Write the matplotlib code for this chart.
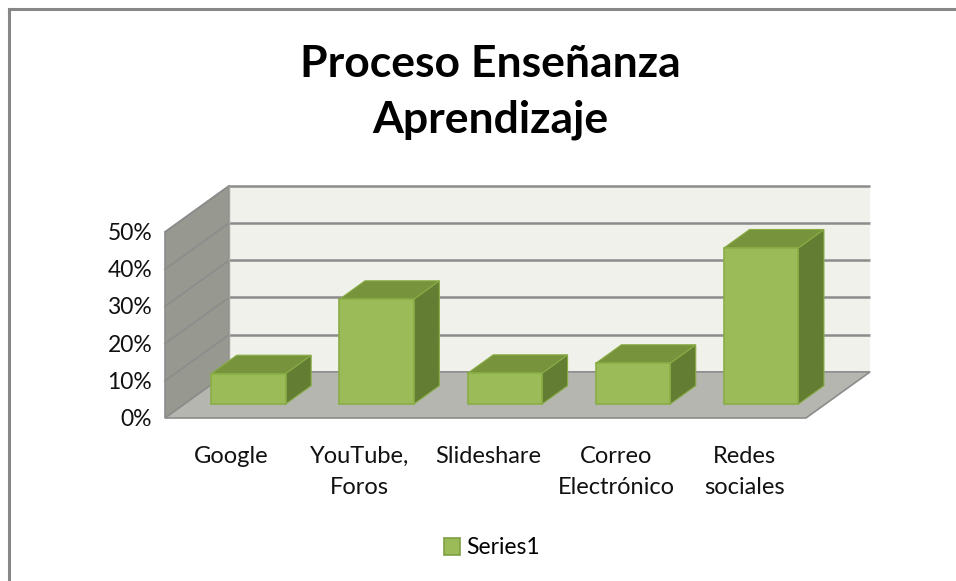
import matplotlib
matplotlib.use("Agg")
import matplotlib.pyplot as plt
from matplotlib.patches import Polygon, Patch
import numpy as np

# ---- data ----
categories = ["Google", "YouTube,\nForos", "Slideshare", "Correo\nElectrónico", "Redes\nsociales"]
values = [8.2, 28.2, 8.3, 11.0, 42.0]          # percent
y_ticks = [0, 10, 20, 30, 40, 50]
y_tick_labels = ["0%", "10%", "20%", "30%", "40%", "50%"]
series_name = "Series1"
title = "Proceso Enseñanza\nAprendizaje"

# ---- style / geometry ----
FONT = "Lato"
W, H, DPI = 956, 581, 100
px_per_slot = 128.2
px_per_pct = 3.72
x0_px, y0_px = 165, 418          # front-left floor corner in pixels
depth_dx, depth_dy = 0.5, 12.4   # oblique offset of full depth (slots, pct)
bar_w = 0.58
bar_d0, bar_d1 = 0.30, 0.70
ymax = 50

front_c = "#9BBB59"
top_c = "#77933C"
side_c = "#637D33"
edge_c = "#89AD45"
back_wall_c = "#EFF1EA"
side_wall_c = "#97988F"
floor_c = "#B4B6AF"
grid_c = "#8C8C8C"
text_c = "#111111"

fig = plt.figure(figsize=(W / DPI, H / DPI), dpi=DPI)
ax = fig.add_axes([0, 0, 1, 1])
ax.set_xlim(-x0_px / px_per_slot, (W - x0_px) / px_per_slot)
ax.set_ylim(-(H - y0_px) / px_per_pct, y0_px / px_per_pct)
ax.axis("off")

n = len(categories)

def P(x, y, d):
    return (x + d * depth_dx, y + d * depth_dy)

# walls
side_wall = Polygon([P(0, 0, 0), P(0, 0, 1), P(0, ymax, 1), P(0, ymax, 0)],
                    closed=True, fc=side_wall_c, ec=grid_c, lw=1.2, zorder=1)
back_wall = Polygon([P(0, 0, 1), P(n, 0, 1), P(n, ymax, 1), P(0, ymax, 1)],
                    closed=True, fc=back_wall_c, ec="none", lw=0, zorder=1)
floor = Polygon([P(0, 0, 0), P(n, 0, 0), P(n, 0, 1), P(0, 0, 1)],
                closed=True, fc=floor_c, ec=grid_c, lw=1.2, zorder=2)
ax.add_patch(back_wall)
ax.add_patch(side_wall)

# gridlines
for t in y_ticks[1:]:
    a, b = P(0, t, 1), P(n, t, 1)
    ax.plot([a[0], b[0]], [a[1], b[1]], color=grid_c, lw=1.8, zorder=1.5, solid_capstyle="butt")
    c = P(0, t, 0)
    ax.plot([c[0], a[0]], [c[1], a[1]], color=grid_c, lw=1.2, zorder=1.5)
a = P(0, 0, 1); b = P(0, ymax, 1)
ax.plot([a[0], b[0]], [a[1], b[1]], color="#A5A5A0", lw=1.0, zorder=1.6)
ax.add_patch(floor)

# bars
for i, v in enumerate(values):
    xl = i + 0.5 - bar_w / 2
    xr = i + 0.5 + bar_w / 2
    front = [P(xl, 0, bar_d0), P(xr, 0, bar_d0), P(xr, v, bar_d0), P(xl, v, bar_d0)]
    top = [P(xl, v, bar_d0), P(xr, v, bar_d0), P(xr, v, bar_d1), P(xl, v, bar_d1)]
    side = [P(xr, 0, bar_d0), P(xr, 0, bar_d1), P(xr, v, bar_d1), P(xr, v, bar_d0)]
    ax.add_patch(Polygon(side, closed=True, fc=side_c, ec=edge_c, lw=0.8, zorder=3))
    ax.add_patch(Polygon(top, closed=True, fc=top_c, ec=edge_c, lw=0.8, zorder=3))
    ax.add_patch(Polygon(front, closed=True, fc=front_c, ec=edge_c, lw=1.2, zorder=4))

# y tick labels on front-left edge
for t, lab in zip(y_ticks, y_tick_labels):
    ax.text(-0.1, t - 0.4, lab, ha="right", va="center", fontsize=16.5, family=FONT, color=text_c)

# category labels
for i, lab in enumerate(categories):
    ax.text(i + 0.52, -7.6, lab, ha="center", va="top", fontsize=17, family=FONT,
            color=text_c, linespacing=1.6)

# title
fig.text(490 / W, 1 - 92 / H, title, ha="center", va="center", fontsize=32,
         fontweight="bold", family=FONT, linespacing=1.45)

# legend
handle = Patch(facecolor=front_c, edgecolor="#7E9F43", linewidth=1.2, label=series_name)
fig.legend(handles=[handle], loc="center", bbox_to_anchor=(492 / W, 1 - 548 / H),
           frameon=False, prop={"family": FONT, "size": 16.5}, handlelength=0.7,
           handleheight=0.7, handletextpad=0.3)

# outer chart border (left and top visible)
fig.add_artist(plt.Line2D([9 / W, 9 / W], [0, 1 - 9 / H], transform=fig.transFigure,
                          color="#878787", lw=2.2))
fig.add_artist(plt.Line2D([9 / W, 1], [1 - 9 / H, 1 - 9 / H], transform=fig.transFigure,
                          color="#878787", lw=2.2))

fig.savefig("out.png", dpi=DPI)
